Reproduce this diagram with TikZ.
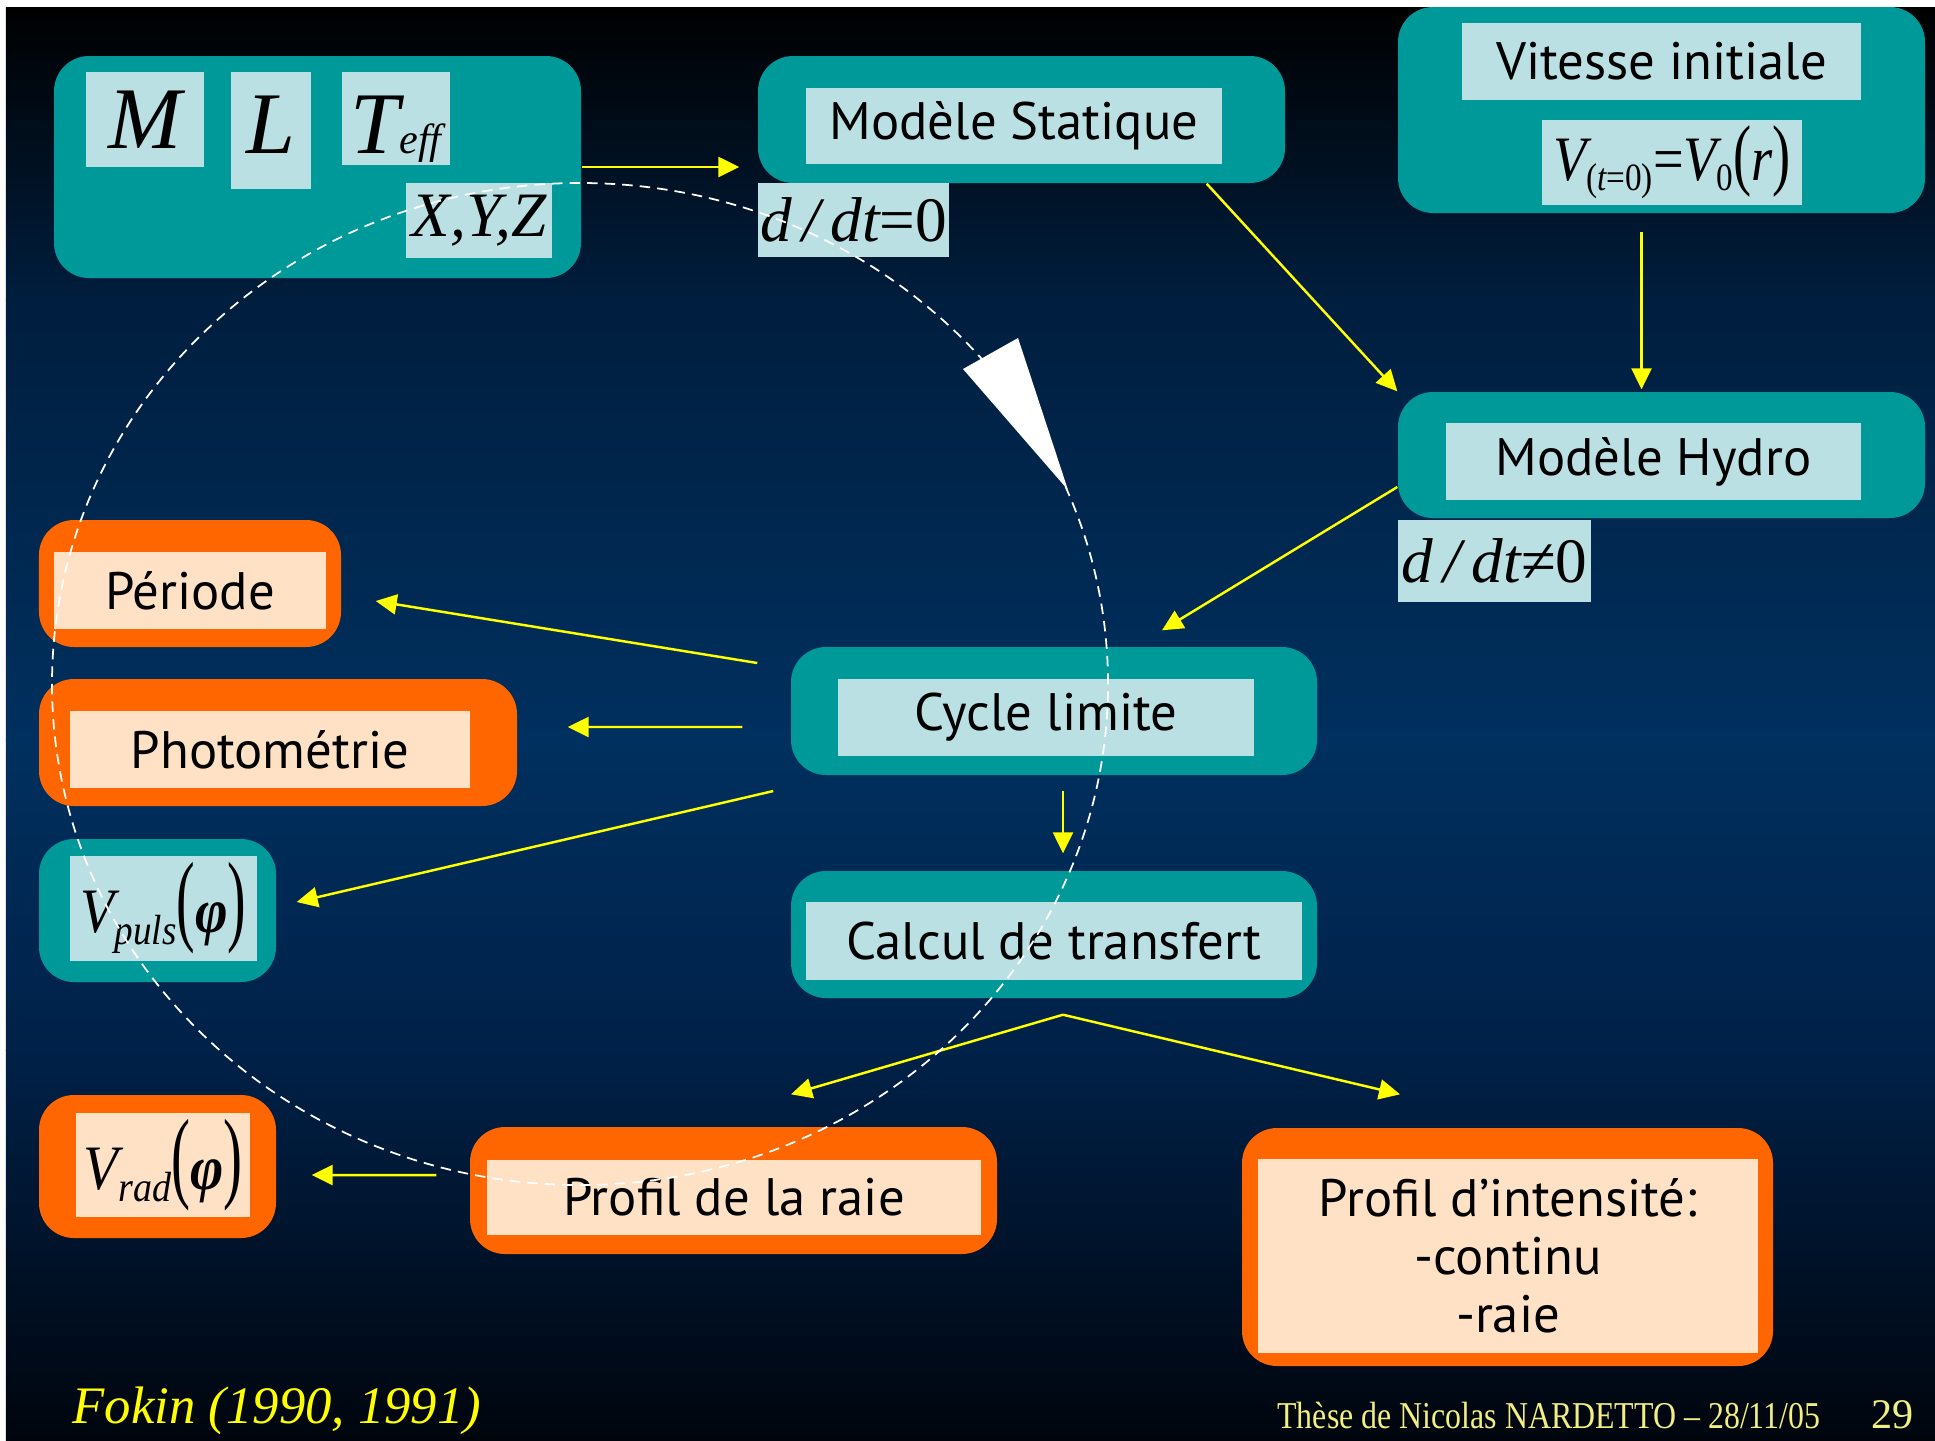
\documentclass[tikz,border=0pt]{standalone}
\usepackage{fontspec}
\usepackage{graphicx}
\setmainfont{PT Sans}
\newfontfamily\timesfont{Liberation Serif}
\usetikzlibrary{arrows.meta,calc}

\definecolor{slidetop}{HTML}{000000}
\definecolor{slideup}{HTML}{001E3E}
\definecolor{slidemid}{HTML}{00305F}
\definecolor{slidelow}{HTML}{002148}
\definecolor{slidebot}{HTML}{00050D}
\definecolor{tealfill}{HTML}{009999}
\definecolor{cyanfill}{HTML}{BBE0E3}
\definecolor{orangefill}{HTML}{FF6600}
\definecolor{peachfill}{HTML}{FFE1C6}
\definecolor{flowyellow}{HTML}{FFFF00}
\definecolor{footyellow}{HTML}{F2EE80}

\newcommand\boxfont{\fontsize{15}{16.5}\selectfont}
\newcommand\bigvar{\timesfont\itshape\fontsize{25}{25}\selectfont}
\newcommand\midvar{\timesfont\itshape\fontsize{18}{18}\selectfont}
\newcommand\subvar{\fontsize{12}{12}\selectfont}

\tikzset{
  block/.style={rounded corners=0.35cm, inner sep=0pt},
  tealbox/.style={block, fill=tealfill},
  orangebox/.style={block, fill=orangefill},
  cyanbox/.style={fill=cyanfill, inner sep=0pt, font=\boxfont},
  peachbox/.style={fill=peachfill, inner sep=0pt, font=\boxfont},
  flow/.style={draw=flowyellow, line width=0.7pt, -{Triangle[length=0.21cm,width=0.2cm]}},
  orbit/.style={draw=white, line width=0.5pt, dash pattern=on 3pt off 2pt},
}

\begin{document}
\begin{tikzpicture}
    \useasboundingbox (0,0) rectangle (19.35,-14.4);

    % slide background
    \fill[white] (0,0) rectangle (19.35,-14.4);
    \shade[top color=slidetop, bottom color=slideup] (0.06,-0.07) rectangle (19.35,-3.0);
    \shade[top color=slideup, bottom color=slidemid] (0.06,-3.0) rectangle (19.35,-7.4);
    \shade[top color=slidemid, bottom color=slidelow] (0.06,-7.4) rectangle (19.35,-10.5);
    \shade[top color=slidelow, bottom color=slidebot] (0.06,-10.5) rectangle (19.35,-14.4);

    % stellar parameters
    \node[tealbox, minimum width=5.27cm, minimum height=2.22cm] (params) at (3.175,-1.67) {};
    \node[cyanbox, minimum width=1.18cm, minimum height=0.95cm] (mass) at (1.45,-1.195) {\bigvar M};
    \node[cyanbox, minimum width=0.80cm, minimum height=1.17cm, text height=0.65cm, text depth=0.2cm] (lum) at (2.71,-1.305) {\bigvar L};
    \node[cyanbox, minimum width=1.08cm, minimum height=0.93cm, text height=0.7cm, text depth=0cm] (temp) at (3.96,-1.185) {\bigvar T{\subvar eff}};
    \node[cyanbox, minimum width=1.46cm, minimum height=0.75cm] (chem) at (4.79,-2.205) {\midvar X,Y,Z};

    % static model
    \node[tealbox, minimum width=5.27cm, minimum height=1.27cm] (statique) at (10.215,-1.195) {};
    \node[cyanbox, minimum width=4.16cm, minimum height=0.76cm] (statiquetxt) at (10.14,-1.26) {Modèle Statique};
    \node[cyanbox, minimum width=1.91cm, minimum height=0.74cm] (static) at (8.535,-2.20) {\midvar d\,/\,dt\upshape=0};

    % initial velocity
    \node[tealbox, minimum width=5.27cm, minimum height=2.06cm] (vitesse) at (16.615,-1.10) {};
    \node[cyanbox, minimum width=3.99cm, minimum height=0.77cm] (vitessetxt) at (16.615,-0.615) {Vitesse initiale};
    \node[cyanbox, minimum width=2.60cm, minimum height=0.85cm] (vinit) at (16.72,-1.625)
      {\scalebox{0.86}[1]{\midvar V\raisebox{-0.1cm}{\fontsize{11}{11}\selectfont\upshape(\itshape t\upshape=0)}\upshape=\itshape V\raisebox{-0.1cm}{\fontsize{11}{11}\selectfont\upshape 0}\scalebox{1}[1.25]{\upshape(}r\scalebox{1}[1.25]{\upshape)}}};

    % hydrodynamic model
    \node[tealbox, minimum width=5.27cm, minimum height=1.26cm] (hydro) at (16.615,-4.55) {};
    \node[cyanbox, minimum width=4.15cm, minimum height=0.77cm] (hydrotxt) at (16.535,-4.615) {Modèle Hydro};
    \node[cyanbox, minimum width=1.93cm, minimum height=0.82cm] (dynamic) at (14.945,-5.61) {\midvar d\,/\,dt\upshape≠0};

    % limit cycle and transfer
    \node[tealbox, minimum width=5.26cm, minimum height=1.28cm] (cycle) at (10.54,-7.11) {};
    \node[cyanbox, minimum width=4.16cm, minimum height=0.77cm] (cycletxt) at (10.46,-7.175) {Cycle limite};
    \node[tealbox, minimum width=5.26cm, minimum height=1.27cm] (transfert) at (10.54,-9.345) {};
    \node[cyanbox, minimum width=4.96cm, minimum height=0.78cm] (transferttxt) at (10.54,-9.41) {Calcul de transfert};

    % observables
    \node[orangebox, minimum width=3.02cm, minimum height=1.27cm] (periode) at (1.90,-5.835) {};
    \node[peachbox, minimum width=2.72cm, minimum height=0.77cm] (periodetxt) at (1.90,-5.905) {Période};
    \node[orangebox, minimum width=4.78cm, minimum height=1.27cm] (photo) at (2.78,-7.425) {};
    \node[peachbox, minimum width=4.00cm, minimum height=0.77cm] (phototxt) at (2.70,-7.495) {Photométrie};
    \node[tealbox, minimum width=2.37cm, minimum height=1.43cm] (vpuls) at (1.575,-9.105) {};
    \node[cyanbox, minimum width=1.87cm, minimum height=1.05cm] (vpulstxt) at (1.635,-9.085)
      {\scalebox{0.88}[1]{\midvar V\raisebox{-0.12cm}{\subvar puls}\scalebox{1}[1.6]{\upshape(}\textbf{φ}\scalebox{1}[1.6]{\upshape)}}};
    \node[orangebox, minimum width=2.37cm, minimum height=1.43cm] (vrad) at (1.575,-11.665) {};
    \node[peachbox, minimum width=1.74cm, minimum height=1.04cm] (vradtxt) at (1.63,-11.65)
      {\scalebox{0.9}[1]{\midvar V\raisebox{-0.12cm}{\subvar rad}\scalebox{1}[1.6]{\upshape(}\textbf{φ}\scalebox{1}[1.6]{\upshape)}}};
    \node[orangebox, minimum width=5.27cm, minimum height=1.27cm] (raie) at (7.335,-11.905) {};
    \node[peachbox, minimum width=4.94cm, minimum height=0.75cm] (raietxt) at (7.34,-11.975) {Profil de la raie};
    \node[orangebox, minimum width=5.31cm, minimum height=2.38cm] (intens) at (15.075,-12.47) {};
    \node[peachbox, minimum width=5.0cm, minimum height=1.94cm, align=center] (intenstxt) at (15.08,-12.56)
      {Profil d’intensité:\\-continu\\-raie};

    % arrows
    \draw[flow] (params.east) -- ($(params.east -| statique.west)+(-0.18,0)$);
    \draw[flow] ($(statique.south east)+(-0.79,0)$) -- (hydro.north west);
    \draw[flow] ($(vitesse.south)+(-0.2,-0.18)$) -- ($(hydro.north)+(-0.2,0.02)$);
    \draw[flow] ($(hydro.west)+(0,-0.32)$) -- ($(cycle.north)+(1.08,0.16)$);
    \draw[flow] ($(cycle.west)+(-0.33,0.48)$) -- ($(periode.east)+(0.34,-0.175)$);
    \draw[flow] ($(cycle.west)+(-0.48,-0.16)$) -- ($(photo.east)+(0.50,0.155)$);
    \draw[flow] ($(cycle.west)+(-0.17,-0.80)$) -- ($(vpuls.east)+(0.20,0.085)$);
    \draw[flow] ($(cycle.south)+(0.09,-0.15)$) -- ($(transfert.north)+(0.09,0.17)$);
    \coordinate (fork) at ($(transfert.south)+(0.09,-0.16)$);
    \draw[flow] (fork) -- ($(raie.north)+(0.575,0.32)$);
    \draw[flow] (fork) -- ($(intens.north)+(-1.075,0.33)$);
    \draw[flow] ($(raie.west)+(-0.33,0.155)$) -- ($(vrad.east)+(0.35,-0.085)$);

    % pulsation cycle
    \draw[orbit] (5.80,-6.84) ellipse [x radius=5.28, y radius=5.01];
    \fill[white] (10.18,-3.38) -- (9.63,-3.69) -- (10.68,-4.90) -- cycle;

    % footer
    \node[anchor=base west, inner sep=0pt, text=flowyellow, font=\timesfont\itshape\fontsize{15}{15}\selectfont] (source) at (0.72,-14.23) {Fokin (1990, 1991)};
    \node[anchor=base east, inner sep=0pt, text=footyellow, font=\timesfont\fontsize{10.8}{11}\selectfont] (footer) at (18.21,-14.28)
      {\scalebox{0.84}[1]{Thèse de Nicolas NARDETTO – 28/11/05}};
    \node[anchor=base west, inner sep=0pt, text=footyellow, font=\timesfont\fontsize{12}{12}\selectfont] (pageno) at (18.71,-14.28) {29};
\end{tikzpicture}
\end{document}
